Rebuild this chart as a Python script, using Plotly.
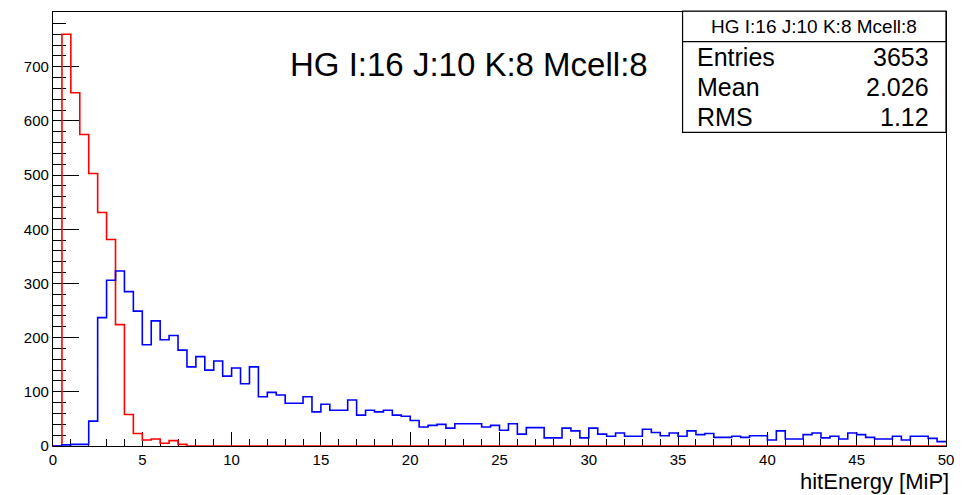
import numpy as np
import plotly.graph_objects as go

# ---- data ----
bin_lo, bin_hi, n_bins = 0.0, 50.0, 100

red_counts = [0, 760, 652, 575, 503, 431, 381, 224, 58, 23,
              11, 13, 5, 10, 3] + [0] * 85

blue_counts = [0, 2, 3, 3, 46, 237, 306, 323, 285, 249,
               187, 231, 196, 204, 177, 146, 165, 140, 157, 129,
               144, 115, 146, 91, 99, 94, 79, 79, 91, 63,
               77, 66, 66, 85, 57, 66, 63, 66, 57, 55,
               47, 35, 38, 40, 33, 41, 41, 41, 35, 38,
               29, 41, 22, 34, 34, 15, 15, 33, 28, 15,
               33, 22, 18, 24, 18, 18, 31, 25, 19, 24,
               18, 28, 21, 23, 16, 16, 18, 16, 19, 19,
               11, 28, 13, 13, 21, 24, 15, 18, 13, 24,
               21, 16, 13, 13, 18, 11, 18, 18, 14, 8]

title_text = "HG I:16 J:10 K:8 Mcell:8"
stats_labels = ["Entries", "Mean", "RMS"]
stats_values = ["3653", "2.026", "1.12"]
x_title = "hitEnergy [MiP]"
y_tick_vals = [0, 100, 200, 300, 400, 500, 600, 700]
x_tick_vals = [0, 5, 10, 15, 20, 25, 30, 35, 40, 45, 50]

# ---- build step outlines ----
edges = np.linspace(bin_lo, bin_hi, n_bins + 1)


def step_xy(counts):
    xs = list(edges)
    ys = list(counts) + [counts[-1]]
    return xs, ys


FONT = "Liberation Sans, Arial, Helvetica, sans-serif"

fig = go.Figure()
rx, ry = step_xy(red_counts)
bx, by = step_xy(blue_counts)
fig.add_trace(go.Scatter(x=rx, y=ry, mode="lines", line=dict(color="#ff0000", width=1.6, shape="hv"),
                         cliponaxis=False, showlegend=False, hoverinfo="skip"))
fig.add_trace(go.Scatter(x=bx, y=by, mode="lines", line=dict(color="#0000ff", width=1.6, shape="hv"),
                         cliponaxis=False, showlegend=False, hoverinfo="skip"))

fig.update_layout(
    width=965, height=495,
    margin=dict(l=53, r=17, t=11, b=49, pad=0),
    paper_bgcolor="white", plot_bgcolor="white",
    font=dict(family=FONT, color="black", size=15),
    showlegend=False,
)

fig.update_xaxes(
    range=[bin_lo, bin_hi], showgrid=False, zeroline=False,
    showline=True, linecolor="black", linewidth=1.2, mirror=True,
    ticks="inside", ticklen=14, tickwidth=1.2, tickcolor="black",
    tickvals=x_tick_vals, ticktext=[str(v) for v in x_tick_vals],
    tickfont=dict(size=15, family=FONT),
    minor=dict(ticks="inside", ticklen=7, tickwidth=1.2, tickcolor="black", dtick=1, showgrid=False),
    layer="below traces",
)
fig.update_yaxes(
    range=[0, 801], showgrid=False, zeroline=False,
    showline=True, linecolor="black", linewidth=1.2, mirror=True,
    ticks="inside", ticklen=26, tickwidth=1.2, tickcolor="black",
    tickvals=y_tick_vals, ticktext=[str(v) for v in y_tick_vals],
    tickfont=dict(size=15, family=FONT),
    minor=dict(ticks="inside", ticklen=13, tickwidth=1.2, tickcolor="black", dtick=20, showgrid=False),
    layer="below traces",
)

# title
fig.add_annotation(text=title_text, xref="paper", yref="paper", x=0.466, y=0.880,
                   xanchor="center", yanchor="middle", showarrow=False,
                   font=dict(size=33, family=FONT, color="black"))

# x axis title
fig.add_annotation(text=x_title, xref="paper", yref="paper", x=1.006, y=-0.082,
                   xanchor="right", yanchor="middle", showarrow=False,
                   font=dict(size=22, family=FONT, color="black"))

# stats box
box_l, box_r, box_t, box_b, box_div = 0.705, 1.0, 1.002, 0.7225, 0.9317
fig.add_shape(type="rect", xref="paper", yref="paper", x0=box_l, x1=box_r, y0=box_b, y1=box_t,
              line=dict(color="black", width=1.2), fillcolor="white", layer="above")
fig.add_shape(type="line", xref="paper", yref="paper", x0=box_l, x1=box_r, y0=box_div, y1=box_div,
              line=dict(color="black", width=1.2), layer="above")
fig.add_annotation(text=title_text, xref="paper", yref="paper", x=(box_l + box_r) / 2,
                   y=(box_t + box_div) / 2, xanchor="center", yanchor="middle", showarrow=False,
                   font=dict(size=19, family=FONT, color="black"))
row_h = (box_div - box_b) / len(stats_labels)
for i, (lab, val) in enumerate(zip(stats_labels, stats_values)):
    yy = box_div - row_h * (i + 0.5)
    fig.add_annotation(text=lab, xref="paper", yref="paper", x=0.719, y=yy,
                       xanchor="left", yanchor="middle", showarrow=False,
                       font=dict(size=25, family=FONT, color="black"))
    fig.add_annotation(text=val, xref="paper", yref="paper", x=0.983, y=yy,
                       xanchor="right", yanchor="middle", showarrow=False,
                       font=dict(size=25, family=FONT, color="black"))

fig.write_html("out.html", config={"displayModeBar": False},
               post_script="document.body.style.margin='0';")
